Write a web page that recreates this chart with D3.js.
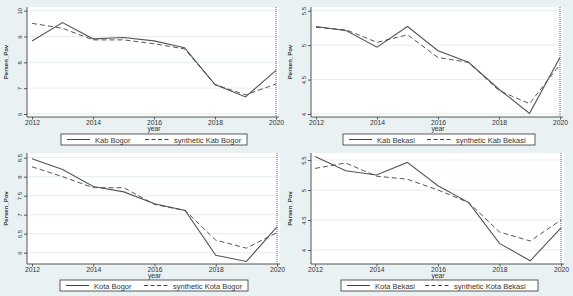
<!DOCTYPE html>
<html>
<head>
<meta charset="utf-8">
<script src="https://cdn.jsdelivr.net/npm/d3@7"></script>
<style>
body{margin:0;background:#fff;}
svg{display:block;font-family:"Liberation Sans",Arial,sans-serif;}
</style>
</head>
<body>
<svg id="chart" width="573" height="296"></svg>
<script>
var years = [2012, 2013, 2014, 2015, 2016, 2017, 2018, 2019, 2020];
var xTicks = [2012, 2014, 2016, 2018, 2020];

var kabBogor     = [8.83, 9.54, 8.91, 8.96, 8.83, 8.57, 7.14, 6.66, 7.69];
var synKabBogor  = [9.51, 9.32, 8.87, 8.87, 8.72, 8.52, 7.14, 6.74, 7.16];
var kabBekasi    = [5.27, 5.21, 4.97, 5.27, 4.92, 4.75, 4.36, 4.01, 4.82];
var synKabBekasi = [5.26, 5.22, 5.04, 5.15, 4.82, 4.75, 4.34, 4.15, 4.72];
var kotaBogor    = [8.47, 8.19, 7.74, 7.60, 7.29, 7.11, 5.93, 5.77, 6.68];
var synKotaBogor = [8.26, 8.00, 7.71, 7.71, 7.27, 7.11, 6.33, 6.12, 6.53];
var kotaBekasi   = [5.56, 5.32, 5.25, 5.46, 5.07, 4.79, 4.11, 3.82, 4.37];
var synKotaBekasi= [5.36, 5.45, 5.23, 5.18, 5.00, 4.79, 4.30, 4.15, 4.50];

var ticks1 = [6, 7, 8, 9, 10];
var ticks2 = [4, 4.5, 5, 5.5];
var ticks3 = [6, 6.5, 7, 7.5, 8, 8.5];
var ticks4 = [4, 4.5, 5, 5.5];

var svg = d3.select('#chart');
svg.append("rect").attr("width", 573).attr("height", 296).attr("fill", "#eaf1f3");

var drawPanel = function(p){
	var g = svg.append("g");
	var x = d3.scaleLinear().domain([2012, 2020]).range([p.x0, p.x1]);
	var y = d3.scaleLinear().domain(p.dom).range([p.yb, p.yt]);

	g.append("rect")
		.attr("x", p.ax).attr("y", p.top)
		.attr("width", p.x1 + 3 - p.ax).attr("height", p.bottom - p.top)
		.attr("fill", "#fff");

	// grid
	g.selectAll(".grid").data(p.ticks).enter().append("line")
		.attr("x1", p.ax).attr("x2", p.x1 + 3)
		.attr("y1", function(d){return y(d);}).attr("y2", function(d){return y(d);})
		.attr("stroke", "#e6ecee").attr("stroke-width", 1);

	// y axis
	var ya = g.append("g").attr("transform", "translate(" + p.ax + ",0)")
		.call(d3.axisLeft(y).tickValues(p.ticks).tickSize(3).tickFormat(function(d){return d;}));
	ya.select(".domain").attr("d", "M0," + p.top + "V" + p.bottom).attr("stroke", "#555");
	ya.selectAll(".tick line").attr("stroke", "#555");
	ya.selectAll(".tick text")
		.attr("transform", "rotate(-90)")
		.attr("x", 0).attr("y", -5).attr("dy", 0)
		.attr("text-anchor", "middle")
		.attr("font-size", 6).attr("fill", "#333");

	// x axis
	var xa = g.append("g").attr("transform", "translate(0," + p.bottom + ")")
		.call(d3.axisBottom(x).tickValues(xTicks).tickSize(2.5).tickFormat(d3.format("d")));
	xa.select(".domain").attr("d", "M" + p.ax + ",0H" + (p.x1 + 3)).attr("stroke", "#555");
	xa.selectAll(".tick line").attr("stroke", "#555");
	xa.selectAll(".tick text").attr("y", 3).attr("font-size", 6.8).attr("fill", "#333");

	g.append("text").attr("x", (p.x0 + p.x1) / 2).attr("y", p.bottom + 14)
		.attr("text-anchor", "middle").attr("font-size", 6.8).attr("fill", "#333").text("year");

	g.append("text")
		.attr("transform", "translate(" + (p.ax - 19) + "," + ((p.top + p.bottom) / 2) + ") rotate(-90)")
		.attr("text-anchor", "middle").attr("font-size", 6).attr("font-weight", "bold")
		.attr("fill", "#333").text("Persen_Pov");

	// xline at 2020
	g.append("line")
		.attr("x1", x(2020)).attr("x2", x(2020)).attr("y1", p.top).attr("y2", p.bottom)
		.attr("stroke", "#666").attr("stroke-width", 1).attr("stroke-dasharray", "1,1");

	var line = d3.line().x(function(d, i){return x(years[i]);}).y(function(d){return y(d);});
	g.append("path").datum(p.actual).attr("d", line)
		.attr("fill", "none").attr("stroke", "#555").attr("stroke-width", 1.1);
	g.append("path").datum(p.synth).attr("d", line)
		.attr("fill", "none").attr("stroke", "#444").attr("stroke-width", 0.9)
		.attr("stroke-dasharray", "5,3");

	// legend
	var lg = g.append("g");
	lg.append("rect").attr("x", p.lx).attr("y", p.ly).attr("width", p.lw).attr("height", 11)
		.attr("fill", "#fff").attr("stroke", "#333").attr("stroke-width", 0.8);
	lg.append("line").attr("x1", p.lx + 6).attr("x2", p.lx + 29)
		.attr("y1", p.ly + 5.5).attr("y2", p.ly + 5.5).attr("stroke", "#444");
	lg.append("text").attr("x", p.lx + 34).attr("y", p.ly + 8.5)
		.attr("font-size", 7.5).attr("fill", "#333").text(p.name);
	lg.append("line").attr("x1", p.lx + 84).attr("x2", p.lx + 109)
		.attr("y1", p.ly + 5.5).attr("y2", p.ly + 5.5).attr("stroke", "#444")
		.attr("stroke-dasharray", "4,2.5");
	lg.append("text").attr("x", p.lx + 113).attr("y", p.ly + 8.5)
		.attr("font-size", 7.5).attr("fill", "#333").text("synthetic " + p.name);
};

drawPanel({name: "Kab Bogor", actual: kabBogor, synth: synKabBogor, dom: [6, 10], ticks: ticks1,
	ax: 27, x0: 32, x1: 276, top: 7, bottom: 117, yb: 114, yt: 10.7, lx: 61, ly: 134, lw: 186});
drawPanel({name: "Kab Bekasi", actual: kabBekasi, synth: synKabBekasi, dom: [4, 5.5], ticks: ticks2,
	ax: 311, x0: 316, x1: 560, top: 7, bottom: 117, yb: 114, yt: 10.7, lx: 343, ly: 134, lw: 192});
drawPanel({name: "Kota Bogor", actual: kotaBogor, synth: synKotaBogor, dom: [6, 8.5], ticks: ticks3,
	ax: 27, x0: 32, x1: 277, top: 153, bottom: 264, yb: 252.7, yt: 157.7, lx: 60, ly: 280, lw: 188});
drawPanel({name: "Kota Bekasi", actual: kotaBekasi, synth: synKotaBekasi, dom: [4, 5.5], ticks: ticks4,
	ax: 311, x0: 315, x1: 561, top: 153, bottom: 264, yb: 250, yt: 160, lx: 341, ly: 280, lw: 197});
</script>
</body>
</html>
